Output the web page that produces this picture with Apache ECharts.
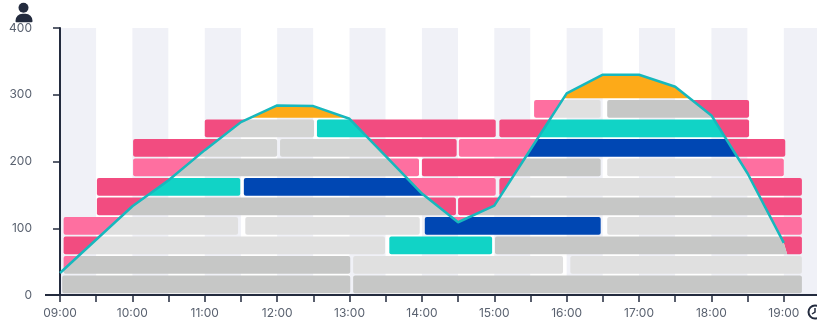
<!DOCTYPE html>
<html>
<head>
<meta charset="utf-8">
<style>
  html, body { margin: 0; padding: 0; background: #fff; }
  #chart { width: 817px; height: 323px; }
</style>
</head>
<body>
<div id="chart"></div>
<script src="https://cdn.jsdelivr.net/npm/echarts@6/dist/echarts.min.js"></script>
<script>
// 时间轴刻度（小时）
var timeTicks = [9, 19.5];
var yTicks = [0, 400];

// 人数曲线
var lineTimes = [9, 10, 10.5, 11, 11.5, 12, 12.5, 13, 13.5, 14, 14.5, 15, 15.5, 16, 16.5, 17, 17.5, 18, 18.5, 19];
var lineValues = [33, 133, 172, 217, 259, 284, 283, 264, 208, 152, 109, 134, 218, 302, 330, 330, 312, 269, 182, 78];
// 曲线末端之后，填充区域还多出一点
var areaEndTime = 19.05;
var areaEndValue = 60;

// 底层班次 [开始, 结束, 行, 颜色]
var backBars = [
    [9.05, 19.0, 2, 'pinkLight'],
    [9.05, 19.25, 3, 'pink'],
    [9.05, 19.25, 4, 'pinkLight'],
    [9.51, 14.47, 5, 'pink'],
    [14.5, 19.25, 5, 'pink'],
    [9.51, 11.49, 6, 'pink'],
    [11.54, 15.02, 6, 'pinkLight'],
    [15.07, 19.25, 6, 'pink'],
    [10.01, 13.96, 7, 'pinkLight'],
    [14.0, 16.47, 7, 'pink'],
    [16.56, 19.0, 7, 'pinkLight'],
    [10.01, 14.48, 8, 'pink'],
    [14.51, 16.0, 8, 'pinkLight'],
    [16.0, 19.02, 8, 'pink'],
    [11.0, 15.02, 9, 'pink'],
    [15.07, 18.52, 9, 'pink'],
    [15.55, 16.5, 10, 'pinkLight'],
    [16.5, 18.52, 10, 'pink']
];

// 曲线下方的班次 [开始, 结束, 行, 颜色]
var frontBars = [
    [9.03, 13.01, 1, 'grey'],
    [13.05, 19.25, 1, 'grey'],
    [9.05, 13.01, 2, 'grey'],
    [13.05, 15.95, 2, 'greyLight'],
    [16.05, 19.25, 2, 'greyLight'],
    [9.05, 13.49, 3, 'greyLight'],
    [13.55, 14.97, 3, 'teal'],
    [15.01, 19.25, 3, 'grey'],
    [9.05, 11.46, 4, 'greyLight'],
    [11.56, 13.97, 4, 'greyLight'],
    [14.04, 16.47, 4, 'blue'],
    [16.56, 19.25, 4, 'greyLight'],
    [9.51, 14.47, 5, 'grey'],
    [14.5, 19.25, 5, 'grey'],
    [9.51, 11.49, 6, 'teal'],
    [11.54, 15.02, 6, 'blue'],
    [15.07, 19.25, 6, 'greyLight'],
    [10.01, 13.96, 7, 'grey'],
    [14.0, 16.47, 7, 'grey'],
    [16.56, 19.0, 7, 'greyLight'],
    [10.01, 12.0, 8, 'greyMid'],
    [12.04, 14.48, 8, 'greyMid'],
    [14.51, 19.02, 8, 'blue'],
    [11.0, 12.51, 9, 'greyMid'],
    [12.55, 15.02, 9, 'teal'],
    [15.07, 18.52, 9, 'teal'],
    [15.55, 16.47, 10, 'greyLight'],
    [16.56, 18.52, 10, 'grey']
];

// 顶部橙色部分 [开始, 结束, 起始行, 行数]
var peakBars = [
    [11.5, 13, 10, 1],
    [15.55, 18.0, 11, 2]
];

var COLORS = {
    pink: '#f24c80',
    pinkLight: '#fe6fa0',
    grey: '#c6c7c6',
    greyMid: '#d3d4d3',
    greyLight: '#e0e0e0',
    teal: '#11d3c6',
    blue: '#0047b3',
    orange: '#fdaa18'
};
var AXIS_COLOR = '#232b3e';
var LABEL_COLOR = '#5a6270';

// 行高，单位同纵轴
var ROW_STEP = 29.2;
var ROW_PAD = 2.6;

function pad(n) {
    return n < 10 ? '0' + n : '' + n;
}

function barRect(api, start, end, row, rows) {
    var p0 = api.coord([start, (row - 1) * ROW_STEP + ROW_PAD]);
    var p1 = api.coord([end, (row - 1 + rows) * ROW_STEP]);
    return { x: p0[0], y: p1[1], width: p1[0] - p0[0], height: p0[1] - p1[1], r: 2 };
}

function curvePoints(api) {
    var points = [];
    for (var i = 0; i < lineTimes.length; i++) {
        points.push(api.coord([lineTimes[i], lineValues[i]]));
    }
    points.push(api.coord([areaEndTime, areaEndValue]));
    points.push(api.coord([timeTicks[1], areaEndValue]));
    return points;
}

// 曲线下方区域，裁剪前景班次
function belowPolygon(api) {
    return [api.coord([timeTicks[0], 0])].concat(curvePoints(api), [api.coord([timeTicks[1], 0])]);
}

// 曲线上方区域，裁剪底层班次
function abovePolygon(api) {
    return [api.coord([timeTicks[0], yTicks[1]])].concat(curvePoints(api), [api.coord([timeTicks[1], yTicks[1]])]);
}

function renderBack(params, api) {
    var bar = backBars[params.dataIndex];
    return {
        type: 'rect',
        shape: barRect(api, api.value(0), api.value(1), api.value(2), 1),
        style: { fill: COLORS[bar[3]] },
        clipPath: { type: 'polygon', shape: { points: abovePolygon(api) } }
    };
}

function renderFront(params, api) {
    var bar = frontBars[params.dataIndex];
    return {
        type: 'rect',
        shape: barRect(api, api.value(0), api.value(1), api.value(2), 1),
        style: { fill: COLORS[bar[3]] },
        clipPath: { type: 'polygon', shape: { points: belowPolygon(api) } }
    };
}

function renderPeak(params, api) {
    return {
        type: 'rect',
        shape: barRect(api, api.value(0), api.value(1), api.value(2), api.value(3)),
        style: { fill: COLORS.orange },
        clipPath: { type: 'polygon', shape: { points: belowPolygon(api) } }
    };
}

var chart = echarts.init(document.getElementById('chart'), null, { renderer: 'canvas' });

chart.setOption({
    animation: false,
    grid: { left: 60, top: 28, width: 760, height: 267, outerBoundsMode: 'none' },
    xAxis: {
        type: 'value',
        min: timeTicks[0],
        max: timeTicks[1],
        interval: 0.5,
        axisLine: { onZero: false, lineStyle: { color: AXIS_COLOR, width: 2 } },
        axisTick: { length: 7, lineStyle: { color: AXIS_COLOR, width: 1.5 } },
        axisLabel: {
            color: LABEL_COLOR,
            fontFamily: 'Inter',
            fontSize: 12,
            margin: 12,
            formatter: function (value) {
                return value % 1 === 0 && value <= 19 ? pad(value) + ':00' : '';
            }
        },
        splitLine: { show: false },
        splitArea: { show: true, areaStyle: { color: ['#f0f1f7', '#ffffff'] } }
    },
    yAxis: {
        type: 'value',
        min: yTicks[0],
        max: yTicks[1],
        interval: 100,
        axisLine: { show: true, lineStyle: { color: AXIS_COLOR, width: 2 } },
        axisTick: { show: true, length: 7, lineStyle: { color: AXIS_COLOR, width: 1.5 } },
        axisLabel: { color: LABEL_COLOR, fontFamily: 'Inter', fontSize: 12, margin: 28 },
        splitLine: { show: false }
    },
    series: [
        {
            type: 'custom',
            data: backBars.map(function (b) { return [b[0], b[1], b[2]]; }),
            encode: { x: [0, 1], y: 2 },
            renderItem: renderBack,
            silent: true,
            z: 2
        },
        {
            type: 'custom',
            data: frontBars.map(function (b) { return [b[0], b[1], b[2]]; }),
            encode: { x: [0, 1], y: 2 },
            renderItem: renderFront,
            silent: true,
            z: 3
        },
        {
            type: 'custom',
            data: peakBars,
            encode: { x: [0, 1], y: 2 },
            renderItem: renderPeak,
            silent: true,
            z: 3
        },
        {
            type: 'line',
            data: lineTimes.map(function (t, i) { return [t, lineValues[i]]; }),
            symbol: 'none',
            lineStyle: { color: '#17b8bd', width: 2.5 },
            z: 5
        }
    ],
    graphic: [
        // 横轴线向左多出的一段
        { type: 'rect', z: 1, shape: { x: 45, y: 294, width: 15, height: 2 }, style: { fill: AXIS_COLOR } },
        // 人形图标
        { type: 'circle', z: 10, shape: { cx: 23.5, cy: 7.8, r: 5 }, style: { fill: AXIS_COLOR } },
        { type: 'rect', z: 10, shape: { x: 15.5, y: 13.8, width: 17, height: 8.5, r: [7, 7, 1, 1] }, style: { fill: AXIS_COLOR } },
        // 时钟图标
        { type: 'circle', z: 10, shape: { cx: 815, cy: 312, r: 6.5 }, style: { fill: 'none', stroke: AXIS_COLOR, lineWidth: 2 } },
        { type: 'polyline', z: 10, shape: { points: [[815, 308], [815, 312], [812, 314]] }, style: { fill: 'none', stroke: AXIS_COLOR, lineWidth: 1.5 } }
    ]
});
</script>
</body>
</html>
